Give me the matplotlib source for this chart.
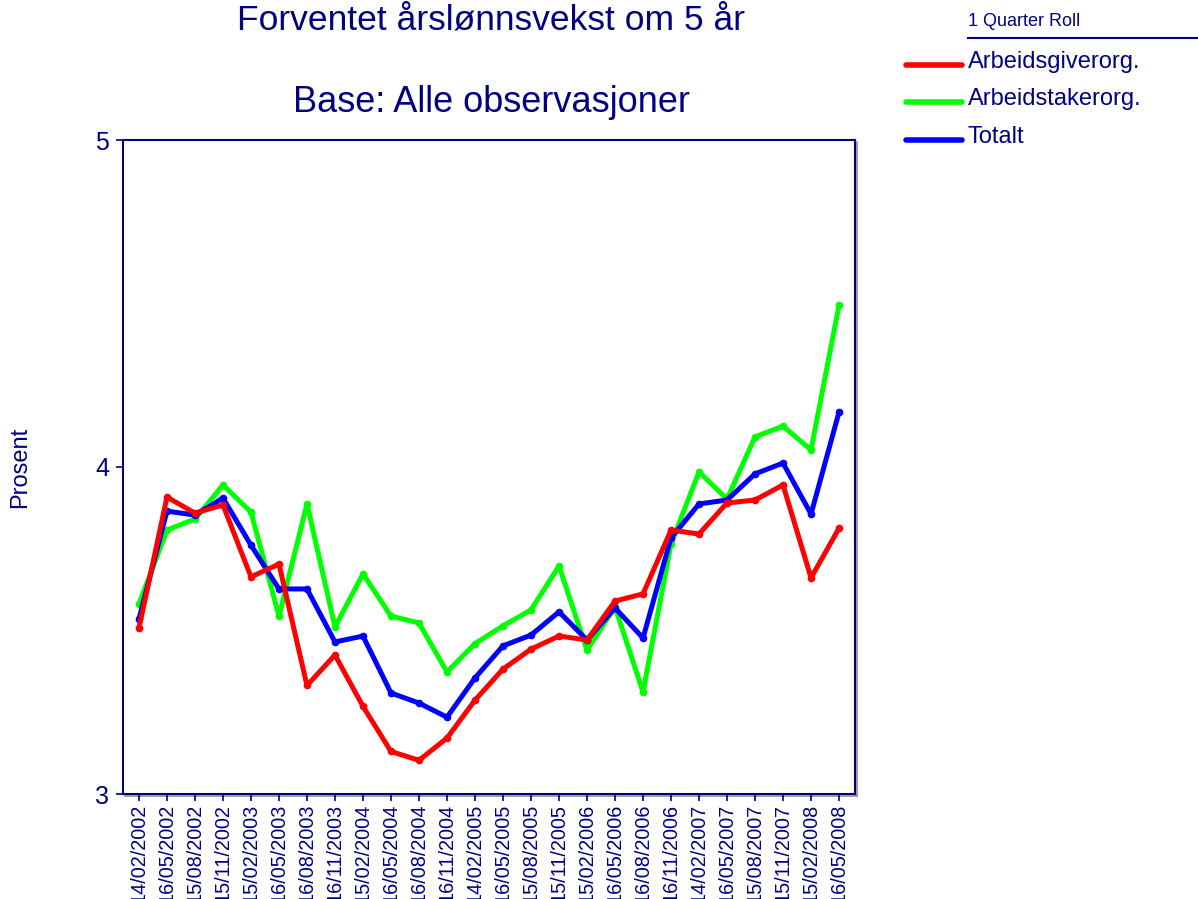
import matplotlib
matplotlib.use("Agg")
import matplotlib.pyplot as plt
from matplotlib.lines import Line2D

plt.rcParams['font.family'] = ['Liberation Sans', 'DejaVu Sans']

dates = ["14/02/2002", "16/05/2002", "15/08/2002", "15/11/2002", "15/02/2003",
         "16/05/2003", "16/08/2003", "16/11/2003", "15/02/2004", "16/05/2004",
         "16/08/2004", "16/11/2004", "14/02/2005", "16/05/2005", "15/08/2005",
         "15/11/2005", "15/02/2006", "16/05/2006", "16/08/2006", "16/11/2006",
         "14/02/2007", "16/05/2007", "15/08/2007", "15/11/2007", "15/02/2008",
         "16/05/2008"]

arbeidsgiver = [3.507, 3.908, 3.859, 3.884, 3.664, 3.703, 3.332, 3.425, 3.268, 3.130,
                3.103, 3.171, 3.287, 3.382, 3.443, 3.483, 3.471, 3.590, 3.612, 3.807,
                3.795, 3.890, 3.899, 3.945, 3.661, 3.813]
arbeidstaker = [3.581, 3.807, 3.841, 3.945, 3.862, 3.544, 3.887, 3.511, 3.673, 3.544,
                3.523, 3.373, 3.460, 3.514, 3.563, 3.697, 3.440, 3.572, 3.312, 3.765,
                3.985, 3.902, 4.092, 4.125, 4.052, 4.495]
totalt = [3.535, 3.865, 3.853, 3.905, 3.761, 3.627, 3.627, 3.465, 3.483, 3.309,
          3.278, 3.235, 3.355, 3.453, 3.486, 3.557, 3.471, 3.569, 3.477, 3.783,
          3.887, 3.899, 3.979, 4.012, 3.856, 4.168]

series_names = ["Arbeidsgiverorg.", "Arbeidstakerorg.", "Totalt"]
colors = ["#ff0000", "#00ff00", "#0000ff"]
navy = "#000080"

fig = plt.figure(figsize=(11.98, 8.99), dpi=100)
L, R, T, B = 123, 855, 140, 794
ax = fig.add_axes([L/1198, 1-B/899, (R-L)/1198, (B-T)/899])

# subtle frame shadow (bottom and right)
fig.add_artist(Line2D([(L+2)/1198, (R+2)/1198], [1-(B+2)/899, 1-(B+2)/899],
                      color="#909090", lw=1.2, transform=fig.transFigure, zorder=0))
fig.add_artist(Line2D([(R+2)/1198, (R+2)/1198], [1-(T+2)/899, 1-(B+2)/899],
                      color="#909090", lw=1.2, transform=fig.transFigure, zorder=0))

x = list(range(len(dates)))
for vals, c, name in [(arbeidstaker, colors[1], series_names[1]),
                      (totalt, colors[2], series_names[2]),
                      (arbeidsgiver, colors[0], series_names[0])]:
    ax.plot(x, vals, color=c, lw=3.6, marker='o', markersize=4.5,
            solid_joinstyle='round', label=name, zorder=3)

ax.set_xlim(-0.57, len(dates) - 1 + 0.57)
ax.set_ylim(3, 5)
ax.set_yticks([3, 4, 5])
ax.set_yticklabels(["3", "4", "5"])
ax.set_xticks(x)
ax.set_xticklabels(dates, rotation=90)
ax.tick_params(axis='y', colors=navy, labelsize=18, length=5, width=1.2, pad=5)
ax.tick_params(axis='x', colors=navy, labelsize=14.3, length=5, width=1.2, pad=2)
for s in ax.spines.values():
    s.set_color(navy)
    s.set_linewidth(1.5)

fig.text(491/1198, 1-20/899, "Forventet årslønnsvekst om 5 år", ha='center', va='center',
         fontsize=25.5, color=navy)
fig.text(491/1198, 1-103/899, "Base: Alle observasjoner", ha='center', va='center',
         fontsize=26, color=navy)
fig.text(20/1198, 1-467/899, "Prosent", rotation=90, ha='center', va='center',
         fontsize=17, color=navy)

# legend
fig.text(968/1198, 1-21/899, "1 Quarter Roll", ha='left', va='center', fontsize=13, color=navy)
fig.add_artist(Line2D([968/1198, 1.0], [1-38/899, 1-38/899], color=navy, lw=1.5,
                      transform=fig.transFigure))
leg_y = [62, 99, 137]
for name, c, yy in zip(series_names, colors, leg_y):
    fig.add_artist(Line2D([906/1198, 962/1198], [1-(yy+3)/899, 1-(yy+3)/899], color=c, lw=4,
                          solid_capstyle='round', transform=fig.transFigure))
    fig.text(968/1198, 1-yy/899, name, ha='left', va='center', fontsize=17, color=navy)

fig.savefig("out.png", dpi=100)
